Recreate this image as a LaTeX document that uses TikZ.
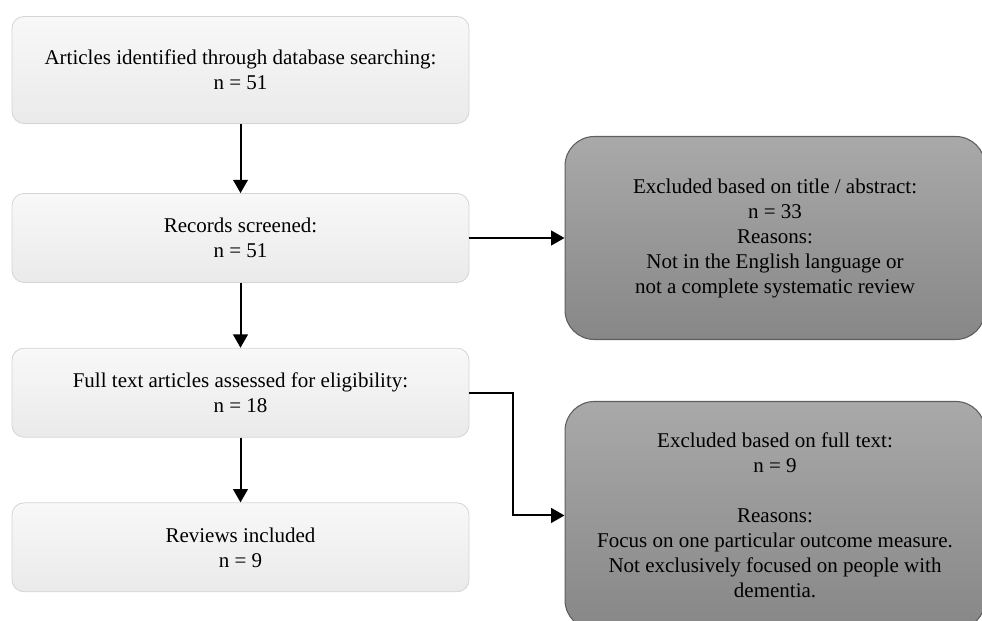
\documentclass[tikz,border=0pt]{standalone}
\usepackage{fontspec}
\setmainfont{Liberation Serif}
\usetikzlibrary{arrows.meta}

\definecolor{stagetop}{HTML}{F8F8F8}
\definecolor{stagebot}{HTML}{EAEAEA}
\definecolor{stageline}{HTML}{D4D4D4}
\definecolor{excltop}{HTML}{A9A9A9}
\definecolor{exclbot}{HTML}{878787}
\definecolor{exclline}{HTML}{5E5E5E}

\begin{document}
\begin{tikzpicture}[x=0.75pt,y=-0.75pt,node distance=116pt,>={Triangle[length=10pt,width=11pt]}]

\tikzstyle{stage}=[draw=stageline,line width=0.6pt,rounded corners=9pt,top color=stagetop,bottom color=stagebot,minimum width=342.75pt,minimum height=66.75pt,align=center,font=\fontsize{15.75}{18.75}\selectfont]
\tikzstyle{excl}=[draw=exclline,line width=0.8pt,rounded corners=22pt,top color=excltop,bottom color=exclbot,minimum width=315pt,align=center,font=\fontsize{15.75}{18.75}\selectfont]
\tikzstyle{flow}=[->,line width=1.5pt,black]

\clip (0,0) rectangle (982,621);

\node[stage,minimum height=80.25pt] (r0) at (240.5,70) {Articles identified through database searching:\\ n = 51};
\node[stage] (r1) [below of=r0,node distance=126pt] {Records screened:\\ n = 51};
\node[stage] (r2) [below of=r1] {Full text articles assessed for eligibility:\\ n = 18};
\node[stage] (r3) [below of=r2] {Reviews included\\ n = 9};

\node[excl,minimum height=152.25pt] (e1) [right of=r1,node distance=400.9pt] {Excluded based on title / abstract:\\ n = 33\\ Reasons:\\ Not in the English language or\\ not a complete systematic review};
\node[excl,minimum height=171pt] (e2) [below of=e1,node distance=208.1pt] {Excluded based on full text:\\ n = 9\\[18.75pt] Reasons:\\ Focus on one particular outcome measure.\\ Not exclusively focused on people with\\ dementia.};

\draw[flow] (r0) -- (r1);
\draw[flow] (r1) -- (r2);
\draw[flow] (r2) -- (r3);
\draw[flow] (r1.east) -- (r1.east -| e1.west);
\draw[flow] (r2.east) -- ++(44,0) |- (e2.west);

\end{tikzpicture}
\end{document}
